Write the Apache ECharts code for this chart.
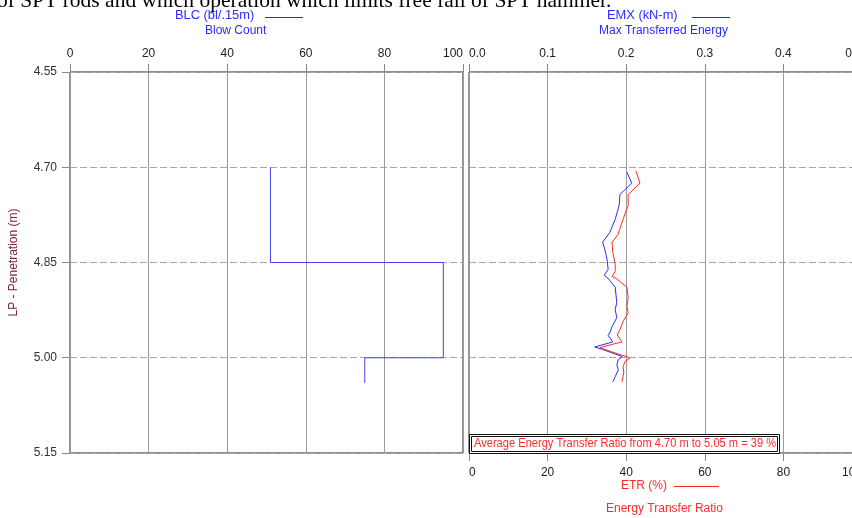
<!DOCTYPE html>
<html><head><meta charset="utf-8">
<script src="https://cdn.jsdelivr.net/npm/echarts@6/dist/echarts.min.js"></script>
<style>html,body{margin:0;padding:0;background:#fff;overflow:hidden}#c{width:852px;height:518px}</style>
</head><body><div id="c"></div>
<script>
// Axis ranges / tick labels
const depthRange = [4.55, 5.15];
const depthStep = 0.15;
const blcRange = [0, 100];
const emxRange = [0, 0.5];
const etrRange = [0, 100];

// Blow count (step profile)
const blcDepth = [4.70, 4.85, 4.85, 5.00, 5.00, 5.04];
const blcValue = [51, 51, 95, 95, 75, 75];

// Max transferred energy EMX (kN-m)
const emxDepth = [4.708,4.725,4.743,4.760,4.782,4.803,4.818,4.830,4.848,4.861,4.870,4.875,4.889,4.913,4.924,4.937,4.951,4.961,4.965,4.975,4.983,4.987,4.998,5.003,5.011,5.019,5.030,5.038];
const emxValue = [0.201,0.207,0.192,0.191,0.186,0.179,0.170,0.173,0.176,0.177,0.172,0.177,0.186,0.188,0.186,0.188,0.182,0.179,0.177,0.183,0.160,0.170,0.195,0.190,0.188,0.190,0.186,0.183];

// Energy transfer ratio ETR (%)
const etrDepth = [4.706,4.725,4.743,4.760,4.782,4.806,4.818,4.834,4.853,4.864,4.872,4.875,4.889,4.905,4.919,4.929,4.943,4.956,4.964,4.975,4.984,4.991,5.000,5.006,5.014,5.024,5.038];
const etrValue = [42.5,43.5,40.5,40.5,39.2,37.9,36.4,36.6,37.2,37.2,36.4,37.4,40.2,40.5,40.2,40.5,39.2,38.4,37.7,38.9,33.3,36.4,41.0,39.7,39.2,39.4,38.9];

const avgText = 'Average Energy Transfer Ratio from 4.70 m to 5.05 m = 39 %';

const pair = (d, v) => d.map((y, i) => [v[i], y]);
const FONT = 'Liberation Sans, Arial, sans-serif';
const BLUE = '#2b2bff';
const RED = '#ff2b2b';

const chart = echarts.init(document.getElementById('c'), null, {renderer: 'canvas'});

const gridLineV = {show: true, lineStyle: {color: '#9a9a9a', width: 1}};
const gridLineH = {show: true, lineStyle: {color: '#a8a8a8', width: 1, type: [7, 3]}};
const tick = {show: true, length: 8, lineStyle: {color: '#888'}};

chart.setOption({
  animation: false,
  backgroundColor: '#fff',
  grid: [
    {left: 70, right: 389, top: 72, bottom: 65, show: true, borderColor: '#222', borderWidth: 1,
     backgroundColor: 'transparent', containLabel: false, outerBoundsMode: 'none'},
    {left: 469, right: -10, top: 72, bottom: 65, show: true, borderColor: '#222', borderWidth: 1,
     backgroundColor: 'transparent', containLabel: false, outerBoundsMode: 'none'}
  ],
  xAxis: [
    {gridIndex: 0, type: 'value', position: 'top', min: blcRange[0], max: blcRange[1], interval: 20,
     axisLine: {show: false}, axisTick: tick,
     axisLabel: {margin: 12, color: '#222', fontFamily: FONT, fontSize: 12, alignMaxLabel: 'right'},
     splitLine: gridLineV},
    {gridIndex: 1, type: 'value', position: 'top', min: emxRange[0], max: emxRange[1], interval: 0.1,
     axisLine: {show: false}, axisTick: tick,
     axisLabel: {margin: 12, color: '#222', fontFamily: FONT, fontSize: 12, formatter: v => v.toFixed(1),
       alignMinLabel: 'left', alignMaxLabel: 'right', showMaxLabel: true},
     splitLine: gridLineV},
    {gridIndex: 1, type: 'value', position: 'bottom', min: etrRange[0], max: etrRange[1], interval: 20,
     axisLine: {show: false}, axisTick: tick,
     axisLabel: {margin: 14, color: '#222', fontFamily: FONT, fontSize: 12,
       alignMinLabel: 'left', alignMaxLabel: 'right', showMaxLabel: true},
     splitLine: {show: false}}
  ],
  yAxis: [
    {gridIndex: 0, type: 'value', inverse: true, min: depthRange[0], max: depthRange[1], interval: depthStep,
     name: 'LP - Penetration (m)', nameLocation: 'middle', nameGap: 50, nameRotate: 90,
     nameTextStyle: {color: '#7b2335', fontFamily: FONT, fontSize: 12},
     axisLine: {show: false}, axisTick: tick,
     axisLabel: {margin: 13, color: '#333', fontFamily: FONT, fontSize: 12, formatter: v => v.toFixed(2)},
     splitLine: gridLineH},
    {gridIndex: 1, type: 'value', inverse: true, min: depthRange[0], max: depthRange[1], interval: depthStep,
     axisLine: {show: false}, axisTick: {show: false}, axisLabel: {show: false},
     splitLine: gridLineH}
  ],
  series: [
    {type: 'line', xAxisIndex: 0, yAxisIndex: 0, data: pair(blcDepth, blcValue), symbol: 'none',
     lineStyle: {color: '#4444ff', width: 1}, silent: true},
    {type: 'line', xAxisIndex: 1, yAxisIndex: 1, data: pair(emxDepth, emxValue), symbol: 'none',
     lineStyle: {color: BLUE, width: 1}, silent: true},
    {type: 'line', xAxisIndex: 2, yAxisIndex: 1, data: pair(etrDepth, etrValue), symbol: 'none',
     lineStyle: {color: RED, width: 1}, silent: true}
  ],
  graphic: [
    {type: 'text', x: -3, y: -10, style: {text: 'of SPT rods and which operation which limits free fall of SPT hammer.', font: '21.5px "Liberation Serif", "Times New Roman", serif', fill: '#000'}},
    {type: 'text', x: 175, y: 16, scaleX: 1.07, style: {text: 'BLC (bl/.15m)', font: '12px ' + FONT, fill: BLUE, verticalAlign: 'middle'}},
    {type: 'line', shape: {x1: 265, y1: 17.5, x2: 303, y2: 17.5}, style: {stroke: BLUE, lineWidth: 1}},
    {type: 'text', x: 205, y: 31, style: {text: 'Blow Count', font: '12px ' + FONT, fill: BLUE, verticalAlign: 'middle'}},
    {type: 'text', x: 607, y: 16, scaleX: 1.07, style: {text: 'EMX (kN-m)', font: '12px ' + FONT, fill: BLUE, verticalAlign: 'middle'}},
    {type: 'line', shape: {x1: 692, y1: 17.5, x2: 730, y2: 17.5}, style: {stroke: BLUE, lineWidth: 1}},
    {type: 'text', x: 599, y: 31, style: {text: 'Max Transferred Energy', font: '12px ' + FONT, fill: BLUE, verticalAlign: 'middle'}},
    {type: 'text', x: 621, y: 486, style: {text: 'ETR (%)', font: '12px ' + FONT, fill: RED, verticalAlign: 'middle'}},
    {type: 'line', shape: {x1: 674, y1: 486.5, x2: 719, y2: 486.5}, style: {stroke: RED, lineWidth: 1}},
    {type: 'text', x: 606, y: 509, style: {text: 'Energy Transfer Ratio', font: '12px ' + FONT, fill: RED, verticalAlign: 'middle'}},
    {type: 'rect', shape: {x: 469.5, y: 434.5, width: 310, height: 19}, style: {fill: '#fff', stroke: '#111', lineWidth: 1}, z: 100},
    {type: 'rect', shape: {x: 471.5, y: 436.5, width: 306, height: 15}, style: {fill: 'none', stroke: '#111', lineWidth: 1}, z: 101},
    {type: 'text', x: 474, y: 444, scaleX: 0.925, style: {text: avgText, font: '12px ' + FONT, fill: RED, verticalAlign: 'middle'}, z: 102}
  ]
});
</script>
</body></html>
